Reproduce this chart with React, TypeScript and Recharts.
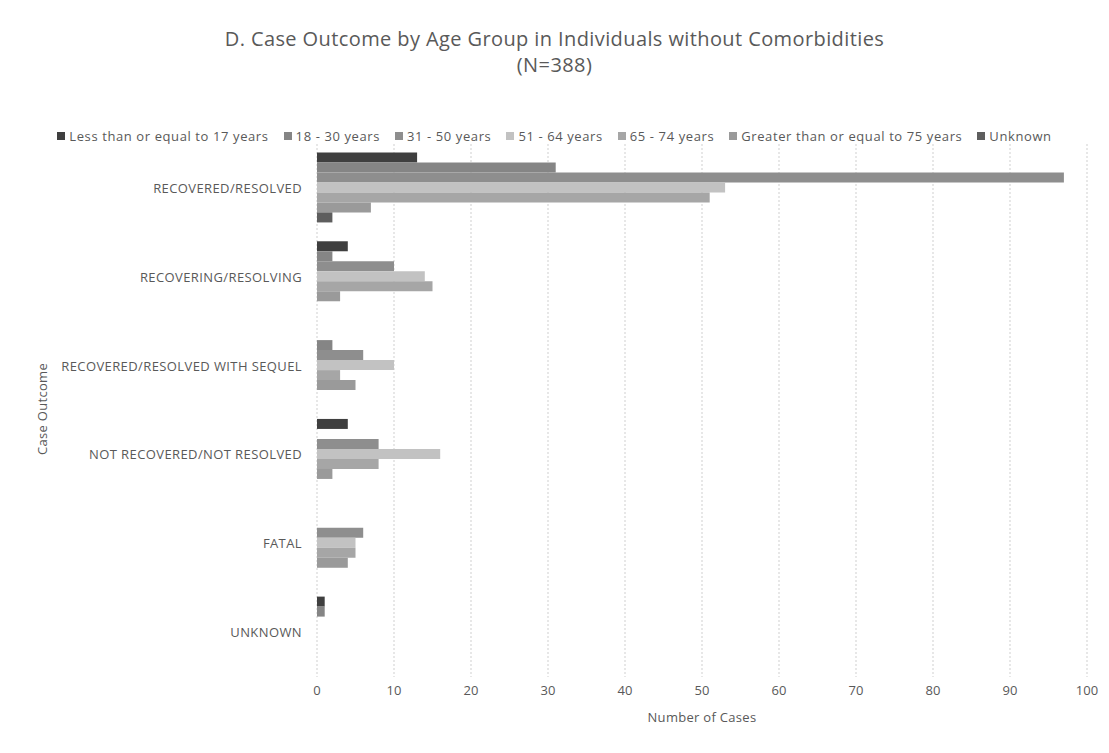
import { BarChart, Bar, XAxis, YAxis, CartesianGrid } from 'recharts';

const categories = [
    'RECOVERED/RESOLVED',
    'RECOVERING/RESOLVING',
    'RECOVERED/RESOLVED WITH SEQUEL',
    'NOT RECOVERED/NOT RESOLVED',
    'FATAL',
    'UNKNOWN',
];

// one value per category, same order as above
const upTo17 = [13, 4, 0, 4, 0, 1];
const age18to30 = [31, 2, 2, 0, 0, 1];
const age31to50 = [97, 10, 6, 8, 6, 0];
const age51to64 = [53, 14, 10, 16, 5, 0];
const age65to74 = [51, 15, 3, 8, 5, 0];
const from75 = [7, 3, 5, 2, 4, 0];
const unknownAge = [2, 0, 0, 0, 0, 0];

const xTicks = [0, 10, 20, 30, 40, 50, 60, 70, 80, 90, 100];

const SERIES = [
    { key: 'le17', name: 'Less than or equal to 17 years', values: upTo17, color: '#3f3f3f' },
    { key: 'a18', name: '18 - 30 years', values: age18to30, color: '#858585' },
    { key: 'a31', name: '31 - 50 years', values: age31to50, color: '#8e8e8e' },
    { key: 'a51', name: '51 - 64 years', values: age51to64, color: '#c2c2c2' },
    { key: 'a65', name: '65 - 74 years', values: age65to74, color: '#a6a6a6' },
    { key: 'ge75', name: 'Greater than or equal to 75 years', values: from75, color: '#9a9a9a' },
    { key: 'unk', name: 'Unknown', values: unknownAge, color: '#5e5e5e' },
];

const data = categories.map((c, i) => {
    const row: Record<string, string | number> = { outcome: c };
    SERIES.forEach((s) => {
        row[s.key] = s.values[i];
    });
    return row;
});

const FONT = '"Open Sans", sans-serif';
const TEXT = '#595959';

// plain text tick so long labels stay on one line
function OutcomeTick({ x, y, payload }: any) {
    return (
        <text x={x} y={y} dy={4.5} textAnchor="end" fill={TEXT} fontSize={13} letterSpacing={0.4} fontFamily={FONT}>
            {payload.value}
        </text>
    );
}

function ChartLegend() {
    return (
        <div style={{ display: 'flex', justifyContent: 'center', gap: 15, fontSize: 13, letterSpacing: 0.6, color: TEXT, whiteSpace: 'nowrap' }}>
            {SERIES.map((s) => (
                <span key={s.key} style={{ display: 'flex', alignItems: 'center', gap: 4 }}>
                    <span style={{ width: 8, height: 8, backgroundColor: s.color, display: 'inline-block' }} />
                    {s.name}
                </span>
            ))}
        </div>
    );
}

export default function App() {
    return (
        <div style={{ margin: -8, position: 'relative', width: 1109, height: 753, background: '#fff', fontFamily: FONT }}>
            <div style={{ position: 'absolute', inset: 0, border: '1px dotted #c8c8c8', boxSizing: 'border-box' }} />
            {/* Title */}
            <div style={{ position: 'absolute', top: 26, left: 0, width: 1109, textAlign: 'center', fontSize: 20, letterSpacing: 0.4, color: TEXT, lineHeight: '26px' }}>
                D. Case Outcome by Age Group in Individuals without Comorbidities
                <br />
                (N=388)
            </div>
            {/* Legend */}
            <div style={{ position: 'absolute', top: 127, left: 0, width: 1109 }}>
                <ChartLegend />
            </div>
            {/* Axis titles */}
            <div style={{ position: 'absolute', top: 708, left: 602, width: 200, textAlign: 'center', fontSize: 13, letterSpacing: 0.3, color: TEXT }}>
                Number of Cases
            </div>
            <div
                style={{
                    position: 'absolute',
                    top: 400,
                    left: -58,
                    width: 200,
                    textAlign: 'center',
                    fontSize: 13,
                    letterSpacing: 0.3,
                    color: TEXT,
                    transform: 'rotate(-90deg)',
                }}
            >
                Case Outcome
            </div>

            <div style={{ position: 'absolute', top: 0, left: 0 }}>
                <BarChart
                    width={1109}
                    height={753}
                    data={data}
                    layout="vertical"
                    margin={{ top: 144, right: 22, bottom: 46, left: 30 }}
                    barCategoryGap="9.5%"
                    barGap={0}
                >
                    <CartesianGrid vertical horizontal={false} stroke="#cfcfcf" strokeDasharray="2 2" />
                    <XAxis
                        type="number"
                        domain={[0, 100]}
                        ticks={xTicks}
                        tickLine={false}
                        axisLine={false}
                        tickSize={0}
                        tickMargin={9}
                        tick={{ fill: TEXT, fontSize: 13, fontFamily: FONT }}
                    />
                    <YAxis
                        type="category"
                        dataKey="outcome"
                        width={287}
                        tickLine={false}
                        axisLine={false}
                        tickSize={0}
                        tickMargin={15}
                        tick={<OutcomeTick />}
                    />
                    {SERIES.map((s) => (
                        <Bar key={s.key} dataKey={s.key} name={s.name} fill={s.color} isAnimationActive={false} />
                    ))}
                </BarChart>
            </div>
        </div>
    );
}
